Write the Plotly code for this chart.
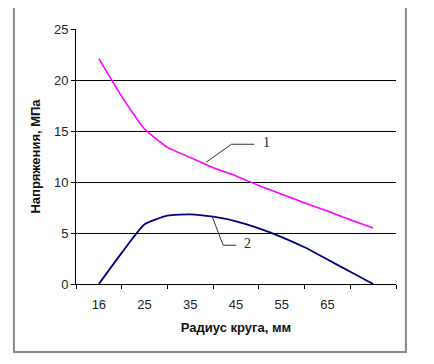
import plotly.graph_objects as go

radius_labels = ["16", "25", "35", "45", "55", "65"]
label_pos = [0, 1, 2, 3, 4, 5]
x_pos = [0, 0.5, 1, 1.5, 2, 2.5, 3, 3.5, 4, 4.5, 5, 5.5, 6]
stress_1 = [22.1, 18.4, 15.2, 13.4, 12.4, 11.4, 10.6, 9.65, 8.8, 7.95, 7.15, 6.3, 5.5]
stress_2 = [0.0, 3.05, 5.85, 6.7, 6.83, 6.6, 6.15, 5.45, 4.6, 3.6, 2.4, 1.2, 0.0]

fig = go.Figure()
fig.add_trace(go.Scatter(x=x_pos, y=stress_1, mode="lines",
                         line=dict(color="#FF00FF", width=1.6, shape="spline", smoothing=0.5),
                         showlegend=False))
fig.add_trace(go.Scatter(x=x_pos, y=stress_2, mode="lines",
                         line=dict(color="#000080", width=1.8, shape="spline", smoothing=0.5),
                         showlegend=False))

font_ax = "Liberation Sans, Arial, sans-serif"
fig.update_layout(
    width=426, height=356,
    margin=dict(l=68, r=38, t=21, b=80),
    paper_bgcolor="white", plot_bgcolor="white",
    font=dict(family=font_ax, size=13, color="#222"),
    xaxis=dict(range=[-0.5, 6.5], tickvals=label_pos, ticktext=radius_labels,
               ticks="", showgrid=False, zeroline=False,
               showline=True, linecolor="black", linewidth=1,
               minor=dict(tick0=-0.5, dtick=1, ticks="outside", ticklen=4,
                          tickcolor="black", showgrid=False),
               tickfont=dict(size=13, color="#222"), ticklabelstandoff=8,
               title=dict(text="<b>Радиус круга, мм</b>", font=dict(size=13, color="#111"), standoff=12)),
    yaxis=dict(range=[0, 25], dtick=5, ticks="outside", ticklen=4, tickcolor="black",
               showgrid=True, gridcolor="black", gridwidth=1, zeroline=False,
               showline=True, linecolor="black", linewidth=1,
               tickfont=dict(size=13, color="#222"),
               title=dict(text="<b>Напряжения, МПа</b>", font=dict(size=13, color="#111"), standoff=10)),
)

# outer border
fig.add_shape(type="rect", xref="paper", yref="paper", x0=-0.194, x1=1.031, y0=-0.267, y1=1.094,
              line=dict(color="#888", width=2), layer="below")

# leader lines for labels
fig.add_shape(type="path", xref="x", yref="y",
              path="M 2.35 11.95 L 2.9 13.7 L 3.4 13.7",
              line=dict(color="#333", width=1))
fig.add_shape(type="path", xref="x", yref="y",
              path="M 2.48 6.6 L 2.72 3.8 L 3.0 3.8",
              line=dict(color="#333", width=1))
fig.add_annotation(x=3.66, y=13.9, xref="x", yref="y", text="1", showarrow=False,
                   font=dict(family="Liberation Serif, Times New Roman, serif", size=14, color="#222"))
fig.add_annotation(x=3.25, y=4.0, xref="x", yref="y", text="2", showarrow=False,
                   font=dict(family="Liberation Serif, Times New Roman, serif", size=14, color="#222"))

fig.write_html("out.html")
